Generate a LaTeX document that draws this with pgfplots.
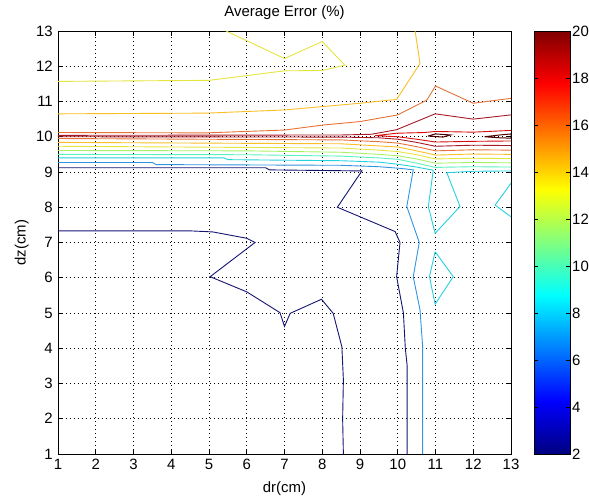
\documentclass[border=0pt]{standalone}
\usepackage{fontspec}
\setmainfont{Liberation Sans}
\usepackage{pgfplots}
\pgfplotsset{compat=1.18}
\definecolor{c1}{rgb}{0.08,0.08,0.45}
\definecolor{c2}{rgb}{0.20,0.58,0.88}
\definecolor{c3}{rgb}{0.15,0.82,0.88}
\definecolor{c4}{rgb}{0.35,0.95,0.75}
\definecolor{c5}{rgb}{0.65,0.95,0.40}
\definecolor{c6}{rgb}{0.90,0.90,0.25}
\definecolor{c7}{rgb}{0.98,0.75,0.15}
\definecolor{c8}{rgb}{0.90,0.45,0.22}
\definecolor{c9}{rgb}{0.65,0.10,0.15}
\definecolor{c10}{rgb}{0.85,0.05,0.05}
\definecolor{c11}{rgb}{0.30,0.00,0.00}
\begin{document}
\begin{tikzpicture}
\begin{axis}[
  scale only axis, width=453bp, height=423bp,
  xmin=1, xmax=13, ymin=1, ymax=13,
  xtick={1,...,13}, ytick={1,...,13},
  grid=major,
  grid style={black, line width=0.7bp, dash pattern=on 1bp off 3bp},
  axis line style={black, line width=0.6bp},
  tick style={black, line width=0.6bp},
  major tick length=5bp,
  tick align=inside,
  /pgf/number format/assume math mode=true,
  tick label style={font=\fontsize{15}{18}\selectfont},
  xticklabel style={inner sep=0pt, anchor=north, yshift=-5bp},
  yticklabel style={inner sep=0pt, anchor=east, xshift=-5bp},
  label style={font=\fontsize{15}{18}\selectfont},
  every axis title shift=0pt,
  title style={font=\fontsize{15}{18}\selectfont, at={(axis description cs:0.5,1)}, anchor=south, inner sep=0pt, yshift=11bp},
  title={Average Error (\%)},
  xlabel={dr(cm)}, ylabel={dz(cm)},
  xlabel style={at={(axis description cs:0.5,-0.064)}, anchor=north, inner sep=0pt},
  ylabel style={at={(axis description cs:-0.064,0.5)}, anchor=south, inner sep=0pt},
  colormap/jet,
  point meta min=2, point meta max=20,
  colorbar,
  colorbar/width=36bp,
  colorbar style={
    at={(parent axis.north east)}, anchor=north west, xshift=14.5bp, yshift=0pt,
    scale only axis, height=423bp,
    ytick={2,4,...,20},
    ytick pos=both, yticklabel pos=right,
    tick align=inside, major tick length=4bp,
    tick style={black, line width=0.6bp},
    axis line style={black, line width=0.6bp},
    yticklabel style={inner sep=0pt, anchor=west, xshift=2bp, font=\fontsize{15}{18}\selectfont},
    /pgf/number format/assume math mode=true,
  },
]
\coordinate (ll) at (rel axis cs:0,0);
% L1 navy
\addplot[c1, line width=0.9bp] coordinates {(1,9.12) (6.5,9.12) (6.6,9.06) (9.05,9.03) (8.4,8.0) (9.93,7.31) (10.06,7.0) (9.97,6.03) (10.15,5.0) (10.2,4.0) (10.25,3.5) (10.25,1)};
\addplot[c1, line width=0.9bp] coordinates {(1,7.33) (4.5,7.33) (5.1,7.3) (6.0,7.12) (6.22,7.0) (5.03,6.03) (6.0,5.6) (6.88,5.01) (7.0,4.62) (7.15,4.99) (7.98,5.39) (8.29,4.99) (8.52,4.04) (8.56,3.1) (8.54,2.0) (8.56,1)};
% L2
\addplot[c2, line width=0.9bp] coordinates {(1,9.27) (3.5,9.27) (3.6,9.21) (8.5,9.19) (9.5,9.15) (10.1,9.1) (10.41,9.06) (10.24,8.02) (10.57,7.0) (10.41,6.03) (10.59,5.09) (10.66,4.04) (10.66,1)};
% L3
\addplot[c3, line width=0.9bp] coordinates {(1,9.40) (5.4,9.40) (5.5,9.35) (8.5,9.32) (9.5,9.28) (10,9.22) (10.5,9.14) (10.94,9.05) (10.81,8.02) (10.99,7.26) (11.65,8.02) (11.3,8.98) (12,9.02) (13,9.03)};
\addplot[c3, line width=0.9bp] coordinates {(13,8.68) (12.58,8.06) (13,7.73)};
\addplot[c3, line width=0.9bp] coordinates {(10.99,6.74) (11.47,6.03) (10.99,5.25) (10.84,6.03) (10.99,6.74)};
% L4 - L7
\addplot[c4, line width=0.9bp] coordinates {(1,9.50) (6,9.49) (8.5,9.45) (9.5,9.40) (10,9.36) (10.5,9.25) (11,9.13) (12,9.15) (13,9.14)};
\addplot[c5, line width=0.9bp] coordinates {(1,9.61) (6,9.60) (8.5,9.56) (9.5,9.50) (10,9.46) (10.5,9.37) (11,9.25) (12,9.27) (13,9.26)};
\addplot[c6, line width=0.9bp] coordinates {(1,9.73) (8.5,9.68) (9.5,9.62) (10,9.58) (10.5,9.49) (11,9.37) (12,9.39) (13,9.38)};
\addplot[c7, line width=0.9bp] coordinates {(1,9.84) (8.5,9.80) (9.5,9.74) (10,9.71) (10.5,9.60) (11,9.48) (12,9.51) (13,9.50)};
% L8 lower / upper
\addplot[c8, line width=0.9bp] coordinates {(1,9.95) (8.5,9.91) (9.5,9.86) (10,9.82) (10.5,9.72) (11,9.60) (12,9.63) (13,9.62)};
\addplot[c8, line width=0.9bp] coordinates {(1,10.12) (4.94,10.11) (7,10.19) (8,10.33) (9,10.43) (10,10.62) (10.77,11.04) (11,11.44) (12,10.95) (13,11.09)};
% L9 lower / upper
\addplot[c9, line width=0.9bp] coordinates {(1,10.0) (8.5,9.99) (9.5,9.97) (10,9.93) (10.5,9.84) (11,9.73) (12,9.76) (13,9.75)};
\addplot[c9, line width=0.9bp] coordinates {(1,10.04) (8.5,10.05) (9.3,10.07) (9.97,10.2) (10.99,10.65) (12,10.5) (13,10.62)};
% L10
\addplot[c10, line width=0.9bp] coordinates {(13,10.18) (12,10.13) (11,10.15) (10.7,10.12) (9.97,10.1) (9.4,10.03) (10,10.0) (10.5,9.93) (11,9.85) (12,9.87) (13,9.88)};
% L11 small loops
\addplot[c11, line width=1bp] coordinates {(10.8,10.02) (11,10.08) (11.4,10.05) (11.2,9.99) (10.8,10.02)};
\addplot[c11, line width=1bp] coordinates {(12.3,10.0) (12.7,10.05) (13,10.08) (13,9.96) (12.7,9.97) (12.3,10.0)};
% upper lines
\addplot[c7, line width=0.9bp] coordinates {(1,10.65) (4.94,10.67) (7,10.76) (9,10.95) (9.97,11.06) (10.59,12.08) (10.46,13)};
\addplot[c6, line width=0.9bp] coordinates {(1,11.57) (5,11.6) (7,11.87) (8,11.88) (8.6,12.03) (8,12.7) (7,12.22) (5.45,13)};
\end{axis}
\pgfresetboundingbox
\path (ll) ++(-58bp,-49bp) rectangle ++(589bp,503bp);
\end{tikzpicture}
\end{document}
